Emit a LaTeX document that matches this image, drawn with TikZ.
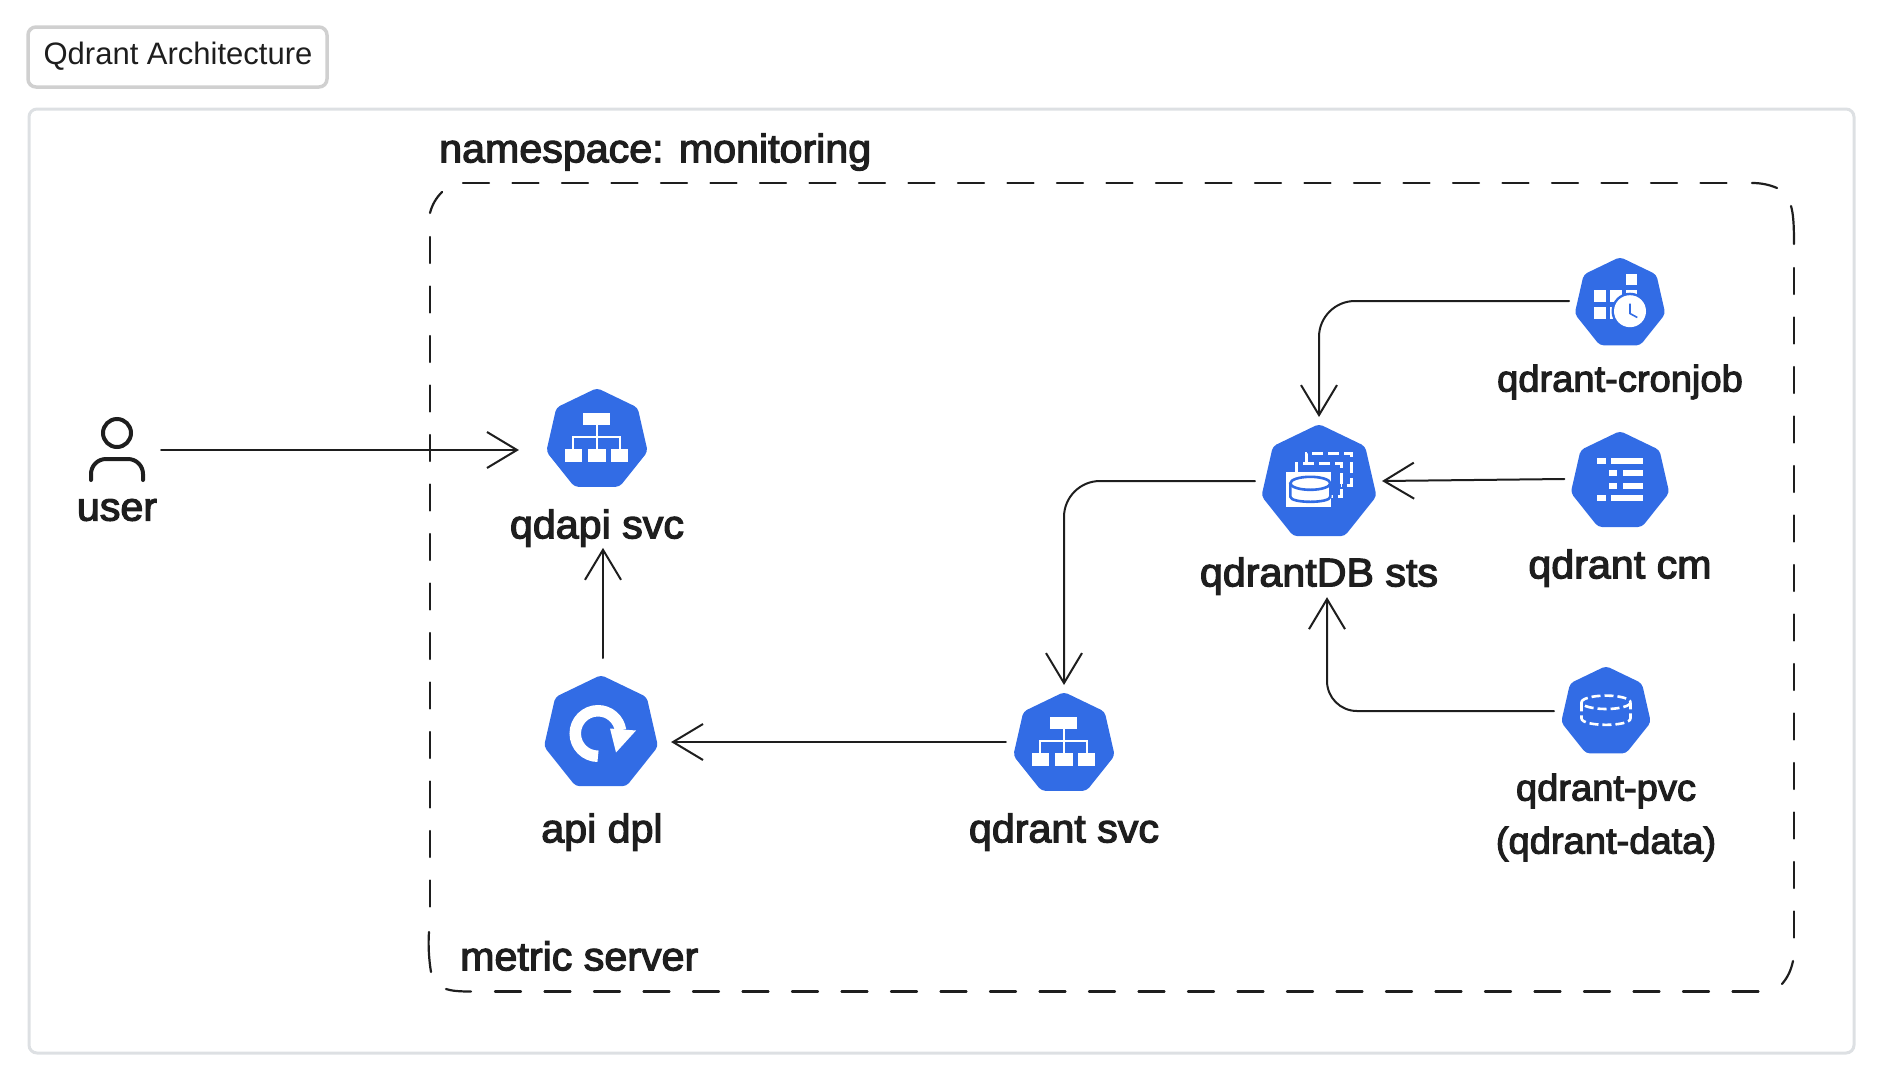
\documentclass[tikz,border=0pt]{standalone}
\usepackage{fontspec}
\setmainfont{Liberation Sans}
\newfontfamily\handfont{Liberation Sans}[FakeBold=3,FakeStretch=1.03]
\usepackage{xcolor}
\usetikzlibrary{arrows.meta}
\usetikzlibrary{shapes.geometric}
\definecolor{kubeblue}{HTML}{326CE5}
\definecolor{ink}{HTML}{1E1E1E}
\definecolor{framegray}{HTML}{DDE0E3}
\definecolor{titlegray}{HTML}{D0D0D0}
\tikzset{kube/.style = {fill=kubeblue, regular polygon, regular polygon sides=7, inner sep=0, outer sep=0, rounded corners=4, minimum size=#1}}
\tikzset{lbl/.style = {text=ink, font=\handfont\fontsize{40}{40}\selectfont, inner sep=0}}
\tikzset{lblsmall/.style = {lbl, font=\handfont\fontsize{37}{37}\selectfont}}
\tikzset{wire/.style = {draw=ink, line width=2, line cap=round, -{Straight Barb[length=30,width=36,line width=2]}}}
\tikzset{bound/.style = {draw=ink, line width=2.2, line cap=round}}
\tikzset{svcicon/.pic = {
    \fill[white] (-14,-27) rectangle (13,-15);
    \fill[white] (-32,9) rectangle (-15,22);
    \fill[white] (-9,9) rectangle (9,22);
    \fill[white] (14,9) rectangle (31,22);
    \draw[white, line width=1.8] (0,-15) -- (0,9);
    \draw[white, line width=1.8] (-24,9) -- (-24,-3) -- (23,-3) -- (23,9);
}}
\tikzset{depicon/.pic = {
    \draw[white, line width=11.5] (-3,22.75) arc[start angle=90, end angle=352, radius=22.75];
    \fill[white] (9,-5) -- (35,-3) -- (15,19) -- cycle;
}}
\tikzset{cronicon/.pic = {
    \fill[white] (6,-30) rectangle (16.7,-18.3);
    \fill[white] (-25.7,-13.3) rectangle (-14.3,-1.7);
    \fill[white] (-10,-13.3) rectangle (1.7,-1.7);
    \fill[white] (-25.7,3.3) rectangle (-14.3,15);
    \fill[white] (-10,3.3) rectangle (1.7,15);
    \fill[white] (6,-13.3) rectangle (16.7,-1.7);
    \fill[kubeblue] (10,7.7) circle (18.5);
    \fill[white] (10,7.7) circle (16);
    \draw[kubeblue, line width=1.6] (10,0) -- (10,10) -- (17.3,14);
}}
\tikzset{cmicon/.pic = {
    \fill[white] (-22.7,-23.5) rectangle (-14.3,-17.5);
    \fill[white] (-8.7,-23.5) rectangle (23.3,-17.5);
    \fill[white] (-11,-11.2) rectangle (-3,-5.2);
    \fill[white] (2.7,-11.2) rectangle (23.3,-5.2);
    \fill[white] (-11,1.2) rectangle (-3,7.2);
    \fill[white] (2.7,1.2) rectangle (23.3,7.2);
    \fill[white] (-22.7,13.5) rectangle (-14.3,19.5);
    \fill[white] (-8.7,13.5) rectangle (23.3,19.5);
}}
\tikzset{dbicon/.pic = {
    \draw[white, line width=3, dash pattern=on 11 off 5] (-12.7,-19.7) -- (-12.7,-29.7) -- (32.3,-29.7) -- (32.3,2) -- (22.3,2);
    \draw[white, line width=3, dash pattern=on 11 off 5] (-22.7,-10.7) -- (-22.7,-19.7) -- (22.3,-19.7) -- (22.3,13.7) -- (12.3,13.7);
    \fill[white] (-33.3,-10.7) rectangle (12.3,23.7);
    \draw[kubeblue, line width=2.6] (-8.7,0.3) ellipse [x radius=20, y radius=6.5];
    \draw[kubeblue, line width=2.6] (-28.7,0.3) -- (-28.7,13.7) .. controls (-28.7,20.5) and (11.3,20.5) .. (11.3,13.7) -- (11.3,0.3);
}}
\tikzset{pvcicon/.pic = {
    \draw[white, line width=2.6, dash pattern=on 9 off 4] (0,-9.7) ellipse [x radius=24.5, y radius=6.7];
    \draw[white, line width=2.6, dash pattern=on 9 off 4] (-24.5,-9.7) -- (-24.5,6.3) .. controls (-24.5,15) and (24.5,15) .. (24.5,6.3) -- (24.5,-9.7);
}}

\begin{document}
\begin{tikzpicture}[x=1pt, y=-1pt]
    \useasboundingbox (0,0) rectangle (1885,1085);

    \node[draw=titlegray, line width=3.5, rounded corners=8, minimum width=299, minimum height=60, inner sep=0] (title) at (177.5,57) {};
    \node[text=ink, font=\fontsize{31}{31}\selectfont, inner sep=0] (titletext) at (178,56) {Qdrant Architecture};
    \draw[framegray, line width=3, rounded corners=8] (29,109) rectangle (1854,1053);

    \draw[bound, dash pattern=on 26 off 23.5] (463,183) -- (1730,183) (1794,268) -- (1794,940) (495,991.5) -- (1762,991.5) (430,237) -- (430,908);
    \draw[bound] (1752,183) .. controls (1762,183) and (1770,185) .. (1777,188);
    \draw[bound] (1791,206) .. controls (1793,213) and (1794,222) .. (1794,244);
    \draw[bound] (1793,961) .. controls (1791,970) and (1788,977) .. (1782,984);
    \draw[bound] (429,932) .. controls (428,945) and (429,960) .. (431,972);
    \draw[bound] (446,989) .. controls (452,991) and (460,991.5) .. (471,991.5);
    \draw[bound] (430,213) .. controls (432,205) and (436,198) .. (442,192);

    \node[lbl, anchor=west] (nslabel) at (439,152) {namespace: monitoring};
    \node[lbl, anchor=west] (metriclabel) at (460,956) {metric server};

    \node[kube=104] (qdapisvc) at (597,440) {};
    \node[kube=117] (apidpl) at (601,733.5) {};
    \node[kube=104] (qdrantsvc) at (1064,744) {};
    \node[kube=118] (qdrantdb) at (1319,483) {};
    \node[kube=93] (cronjob) at (1620,303.5) {};
    \node[kube=101] (qdrantcm) at (1620,481.5) {};
    \node[kube=92] (qdrantpvc) at (1606,712) {};
    \node[minimum width=88, minimum height=60, inner sep=0] (usericon) at (117,450) {};

    \pic at (qdapisvc) {svcicon};
    \pic at (qdrantsvc) {svcicon};
    \pic at (apidpl) {depicon};
    \pic at (cronjob) {cronicon};
    \pic at (qdrantcm) {cmicon};
    \pic at (qdrantdb) {dbicon};
    \pic at (qdrantpvc) {pvcicon};

    \draw[ink, line width=4] (117,433) circle (14); % head
    \draw[ink, line width=4, line cap=round, rounded corners=15] (91,480) -- (91,459) -- (143,459) -- (143,480);

    \node[lbl] (userlabel) at (117,510) {user};
    \node[lbl] (qdapilabel) at (597,528) {qdapi svc};
    \node[lbl] (apilabel) at (602,832) {api dpl};
    \node[lbl] (svclabel) at (1064,832) {qdrant svc};
    \node[lbl] (dblabel) at (1319,576) {qdrantDB sts};
    \node[lblsmall] (cronlabel) at (1620,382) {qdrant-cronjob};
    \node[lbl] (cmlabel) at (1620,568) {qdrant cm};
    \node[lblsmall] (pvclabel) at (1606,791) {qdrant-pvc};
    \node[lblsmall] (datalabel) at (1606,844) {(qdrant-data)};

    \draw[wire] (usericon.east) -- ([xshift=-30,yshift=-10]qdapisvc.west);
    \draw[wire] ([xshift=2,yshift=17]apidpl.north) -- ([xshift=6,yshift=-61]qdapisvc.south);
    \draw[wire] ([xshift=-10,yshift=2]qdrantsvc.west) -- ([xshift=16,yshift=-8.5]apidpl.east);
    \draw[wire, rounded corners=36] ([xshift=-9.5,yshift=2]qdrantdb.west) -| ([yshift=7]qdrantsvc.north);
    \draw[wire, rounded corners=36] ([xshift=-8,yshift=2.5]cronjob.west) -| ([yshift=7]qdrantdb.north);
    \draw[wire] ([xshift=-9,yshift=2.5]qdrantcm.west) -- ([xshift=8.5,yshift=2]qdrantdb.east);
    \draw[wire, rounded corners=30] ([xshift=-9.5,yshift=1]qdrantpvc.west) -| ([xshift=8,yshift=-61]qdrantdb.south);
\end{tikzpicture}
\end{document}
